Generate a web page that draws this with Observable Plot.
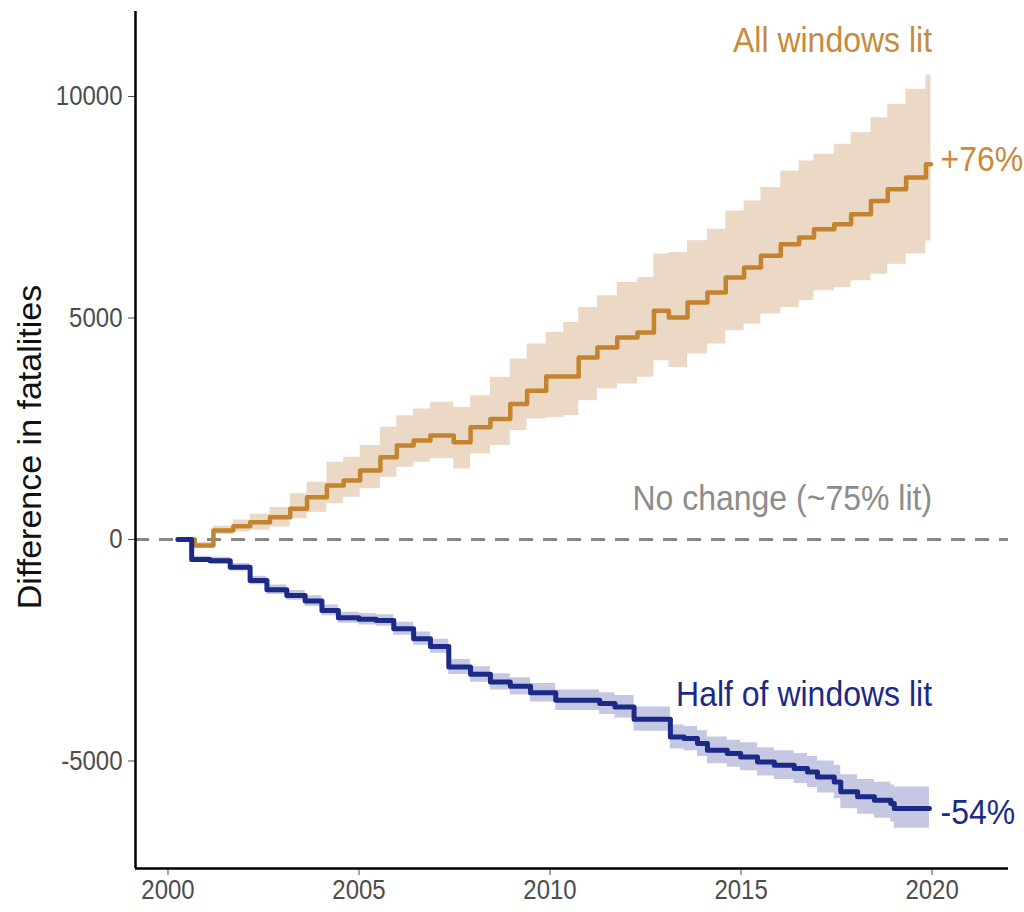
<!DOCTYPE html>
<html><head><meta charset="utf-8">
<script src="https://cdn.jsdelivr.net/npm/d3@7"></script>
<script src="https://cdn.jsdelivr.net/npm/@observablehq/plot@0.6"></script>
<style>
html,body{margin:0;padding:0;background:#fff;}
#chart svg{display:block;}
</style></head><body><div id="chart"></div>
<script>
// "All windows lit" series (step times, central estimate, ribbon)
const allYears = [2000.26, 2000.70, 2001.19, 2001.71, 2002.15, 2002.67, 2003.20, 2003.64, 2004.16, 2004.60, 2005.03, 2005.56, 2005.99, 2006.43, 2006.87, 2007.48, 2007.92, 2008.44, 2008.96, 2009.40, 2009.90, 2010.36, 2010.75, 2011.24, 2011.76, 2012.29, 2012.72, 2013.11, 2013.60, 2014.12, 2014.60, 2015.08, 2015.52, 2016.04, 2016.52, 2016.91, 2017.44, 2017.88, 2018.40, 2018.84, 2019.32, 2019.84, 2019.97];
const allMid = [0, -135, 203, 300, 391, 504, 692, 955, 1218, 1330, 1556, 1856, 2120, 2232, 2345, 2194, 2533, 2721, 3060, 3360, 3680, 3680, 4110, 4336, 4562, 4674, 5163, 5012, 5350, 5576, 5914, 6140, 6403, 6667, 6817, 7005, 7118, 7344, 7644, 7908, 8170, 8470, 8470];
const allLow = [-30, -200, 110, 170, 210, 280, 466, 616, 805, 955, 1143, 1405, 1630, 1743, 1820, 1594, 1932, 2120, 2458, 2721, 2750, 2800, 3134, 3400, 3510, 3660, 4036, 3885, 4187, 4412, 4713, 4864, 5089, 5238, 5389, 5614, 5689, 5840, 5990, 6216, 6442, 6740, 6740];
const allHigh = [30, -60, 300, 440, 570, 720, 1030, 1292, 1743, 1855, 2120, 2533, 2796, 2946, 3096, 2983, 3247, 3660, 4074, 4412, 4680, 4900, 5238, 5502, 5802, 5914, 6442, 6479, 6742, 7005, 7418, 7644, 7944, 8320, 8546, 8697, 8922, 9184, 9522, 9823, 10162, 10480, 10480];

// "Half of windows lit" series
const halfYears = [2000.26, 2000.62, 2001.10, 2001.63, 2002.15, 2002.59, 2003.11, 2003.59, 2004.03, 2004.46, 2005.00, 2005.45, 2005.91, 2006.43, 2006.87, 2007.35, 2007.92, 2008.44, 2008.96, 2009.49, 2010.15, 2011.30, 2011.70, 2012.20, 2013.15, 2013.51, 2013.86, 2014.12, 2014.64, 2014.99, 2015.43, 2015.87, 2016.39, 2016.74, 2017.00, 2017.44, 2017.61, 2018.05, 2018.49, 2018.92, 2019.01, 2019.93];
const halfMid = [0, -450, -480, -624, -924, -1135, -1263, -1391, -1601, -1766, -1800, -1830, -2014, -2240, -2413, -2879, -3044, -3217, -3315, -3460, -3630, -3705, -3780, -4060, -4460, -4495, -4607, -4758, -4833, -4908, -5021, -5096, -5171, -5246, -5359, -5472, -5697, -5810, -5885, -5960, -6072, -6072];
const halfLow = [-20, -520, -560, -710, -1020, -1240, -1370, -1510, -1720, -1890, -1930, -1960, -2160, -2390, -2570, -3050, -3220, -3400, -3510, -3670, -3860, -3950, -4030, -4330, -4730, -4770, -4900, -5060, -5140, -5220, -5340, -5420, -5510, -5600, -5720, -5850, -6080, -6200, -6290, -6380, -6520, -6520];
const halfHigh = [20, -380, -400, -540, -830, -1030, -1150, -1270, -1480, -1640, -1670, -1700, -1870, -2090, -2250, -2710, -2870, -3030, -3120, -3250, -3400, -3460, -3520, -3780, -4190, -4220, -4320, -4460, -4530, -4590, -4700, -4770, -4830, -4900, -5000, -5100, -5310, -5420, -5480, -5540, -5590, -5590];

// axes
const xTicks = [2000, 2005, 2010, 2015, 2020];
const yTicks = [-5000, 0, 5000, 10000];
const xDomain = [1999.15, 2022.0];
const yDomain = [-7427, 11919];

// annotations
const seriesLabels = ["All windows lit", "Half of windows lit", "No change (~75% lit)"];
const seriesLabelX = [2020.0, 2020.0, 2020.0];
const seriesLabelY = [11263, -3495, 913];
const pctLabels = ["+76%", "-54%"];
const pctLabelX = [2020.22, 2020.22];
const pctLabelY = [8568, -6167];

const ORANGE = "#C4832F", BLUE = "#1B2A87", GRAY = "#8C8C8C";
const ORANGE_BAND = "#EBD9C5", BLUE_BAND = "#C5C7E3";

const all = allYears.map((t, i) => ({t, v: allMid[i], lo: allLow[i], hi: allHigh[i]}));
const half = halfYears.map((t, i) => ({t, v: halfMid[i], lo: halfLow[i], hi: halfHigh[i]}));
const labels = seriesLabels.map((s, i) => ({s, x: seriesLabelX[i], y: seriesLabelY[i], c: ["#C88A3C", BLUE, GRAY][i]}));
const pcts = pctLabels.map((s, i) => ({s, x: pctLabelX[i], y: pctLabelY[i], c: ["#C88A3C", BLUE][i]}));

const FONT = "'Liberation Sans', Arial, Helvetica, sans-serif";

const chart = Plot.plot({
  width: 1024, height: 912,
  marginLeft: 135, marginRight: 16, marginTop: 11, marginBottom: 44,
  style: {background: "white", fontFamily: FONT},
  x: {domain: xDomain, label: null},
  y: {domain: yDomain, label: null},
  marks: [
    Plot.areaY(all, {x: "t", y1: "lo", y2: "hi", curve: "step-after", fill: ORANGE_BAND}),
    Plot.areaY(half, {x: "t", y1: "lo", y2: "hi", curve: "step-after", fill: BLUE_BAND}),
    Plot.ruleY([0], {stroke: "#888888", strokeWidth: 3, strokeDasharray: "14,10"}),
    Plot.line(all, {x: "t", y: "v", curve: "step-after", stroke: ORANGE, strokeWidth: 4.5}),
    Plot.line(half, {x: "t", y: "v", curve: "step-after", stroke: BLUE, strokeWidth: 5}),
    Plot.axisX({ticks: xTicks, tickFormat: d => String(d), tickSize: 7, tickPadding: 4, fontSize: 24, color: "#4D4D4D", label: null}),
    Plot.axisY({ticks: yTicks, tickFormat: d => String(d), tickSize: 7, tickPadding: 6, fontSize: 24, color: "#4D4D4D", label: null}),
    Plot.ruleX([xDomain[0]], {stroke: "black", strokeWidth: 2.5}),
    Plot.ruleY([yDomain[0]], {stroke: "black", strokeWidth: 2.5}),
    Plot.text(labels, {x: "x", y: "y", text: "s", fill: "c", textAnchor: "end", lineAnchor: "middle", fontSize: 32}),
    Plot.text(pcts, {x: "x", y: "y", text: "s", fill: "c", textAnchor: "start", lineAnchor: "middle", fontSize: 32})
  ]
});

// slightly taller glyphs, as in the reference rendering
d3.select(chart).selectAll("text").each(function () {
  const t = this.getAttribute("transform") || "";
  const y = parseFloat(this.getAttribute("y")) || 0;
  this.setAttribute("transform", `${t} translate(0,${y}) scale(1,1.12) translate(0,${-y})`);
});

d3.select(chart).append("text")
  .attr("transform", "translate(41,447) rotate(-90)")
  .attr("text-anchor", "middle")
  .attr("font-family", FONT)
  .attr("font-size", 34)
  .attr("fill", "#111")
  .text("Difference in fatalities");

document.getElementById("chart").appendChild(chart);
</script>
</body></html>
